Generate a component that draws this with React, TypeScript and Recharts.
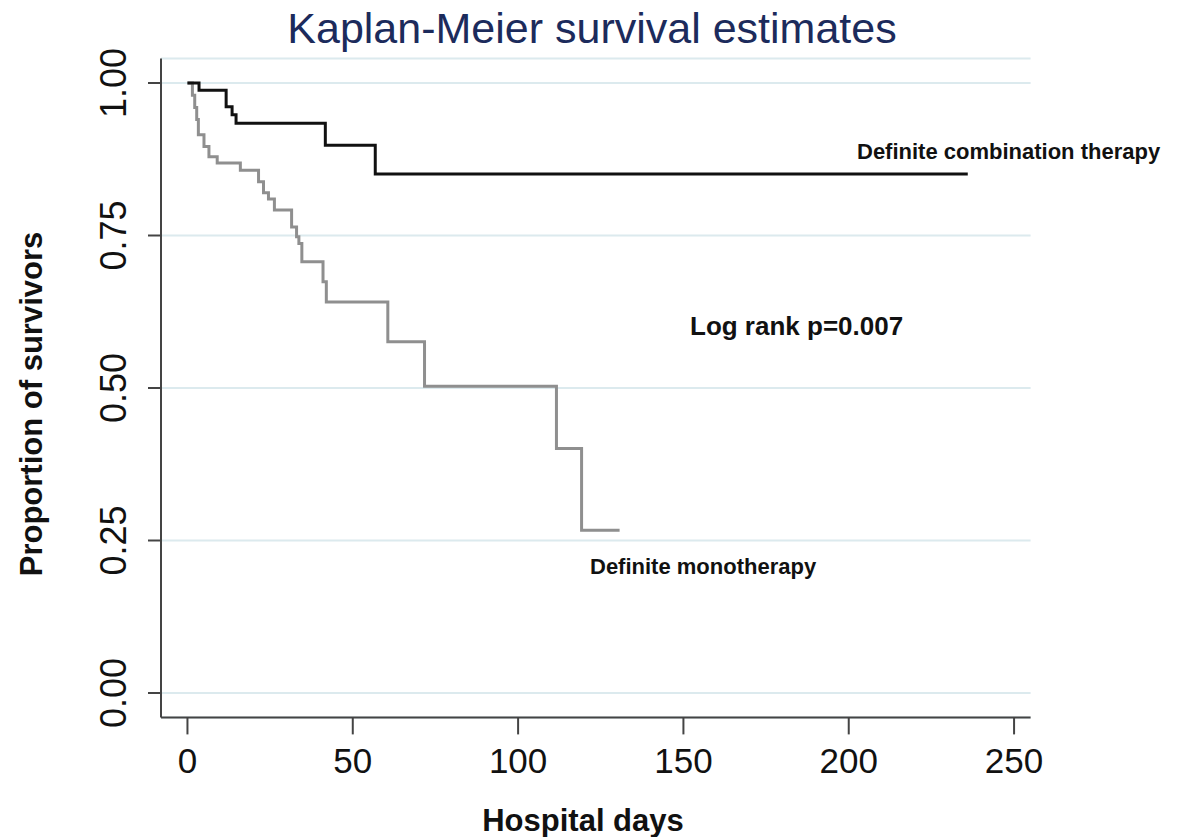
import { LineChart, Line, XAxis, YAxis, CartesianGrid } from "recharts";

// Kaplan-Meier step points (day, survival after the step)
const comboDays = [0, 3.5, 11.7, 13.5, 14.7, 41.7, 56.8, 236];
const comboSurv = [1.0, 0.988, 0.961, 0.948, 0.934, 0.898, 0.851, 0.851];

const monoDays = [
  0, 1.5, 2.2, 2.8, 3.3, 5, 6.5, 9, 16, 21.5, 23, 24.5, 26.3, 31.5, 33, 33.7, 34.6, 41, 42, 60.6, 71.7,
  111.6, 119.2, 130.7,
];
const monoSurv = [
  1.0, 0.98, 0.96, 0.94, 0.915, 0.896, 0.879, 0.869, 0.857, 0.838, 0.82, 0.81, 0.792, 0.764, 0.748, 0.737,
  0.707, 0.674, 0.641, 0.576, 0.503, 0.401, 0.267, 0.267,
];

const xTicks = [0, 50, 100, 150, 200, 250];
const yTicks = [0, 0.25, 0.5, 0.75, 1];

const combo = comboDays.map((t, i) => ({ t, s: comboSurv[i] }));
const mono = monoDays.map((t, i) => ({ t, s: monoSurv[i] }));

const FONT = "'Liberation Sans', Arial, Helvetica, sans-serif";

const XTick = ({ x, y, payload }: any) => (
  <text x={x} y={y + 26} textAnchor="middle" dominantBaseline="central" fontSize={35} fill="#111" fontFamily={FONT}>
    {payload.value}
  </text>
);

const YTick = ({ x, y, payload }: any) => (
  <text
    transform={`translate(${x - 35},${y}) rotate(-90)`}
    textAnchor="middle"
    dominantBaseline="central"
    fontSize={36}
    fill="#111"
    fontFamily={FONT}
  >
    {payload.value.toFixed(2)}
  </text>
);

export default function App() {
  return (
    <div style={{ position: "absolute", left: 0, top: 0, width: 1184, height: 837, background: "#fff", fontFamily: FONT }}>
      <LineChart width={1184} height={837} margin={{ top: 58.6, right: 153.4, bottom: 79.6, left: 101 }}>
        <CartesianGrid horizontal vertical={false} stroke="#dceaee" strokeWidth={2} />
        <XAxis
          type="number"
          dataKey="t"
          domain={[-8, 255]}
          ticks={xTicks}
          allowDataOverflow
          height={40}
          tickSize={17}
          tickMargin={0}
          tick={<XTick />}
          axisLine={{ stroke: "#444", strokeWidth: 2 }}
          tickLine={{ stroke: "#444", strokeWidth: 2 }}
        />
        <YAxis
          type="number"
          dataKey="s"
          domain={[-0.04, 1.04]}
          ticks={yTicks}
          allowDataOverflow
          width={60}
          tickSize={13}
          tickMargin={0}
          tick={<YTick />}
          axisLine={{ stroke: "#444", strokeWidth: 2 }}
          tickLine={{ stroke: "#444", strokeWidth: 2 }}
        />
        <Line
          data={mono}
          dataKey="s"
          type="stepAfter"
          stroke="#8f8f8f"
          strokeWidth={3}
          dot={false}
          isAnimationActive={false}
        />
        <Line
          data={combo}
          dataKey="s"
          type="stepAfter"
          stroke="#111"
          strokeWidth={3}
          dot={false}
          isAnimationActive={false}
        />
      </LineChart>

      <div style={{ position: "absolute", left: 0, width: 1184, top: 3, textAlign: "center", fontSize: 43, color: "#1c2b5c", lineHeight: "50px" }}>
        Kaplan-Meier survival estimates
      </div>
      <div style={{ position: "absolute", left: 383, width: 400, top: 803, textAlign: "center", fontSize: 31, fontWeight: "bold", color: "#111", lineHeight: "36px" }}>
        Hospital days
      </div>
      <div
        style={{
          position: "absolute",
          left: 32,
          top: 404,
          transform: "translate(-50%, -50%) rotate(-90deg)",
          fontSize: 31,
          fontWeight: "bold",
          color: "#111",
          whiteSpace: "nowrap",
          lineHeight: "36px",
        }}
      >
        Proportion of survivors
      </div>
      <div style={{ position: "absolute", left: 857, top: 138, fontSize: 22, fontWeight: "bold", color: "#111", whiteSpace: "nowrap", lineHeight: "28px" }}>
        Definite combination therapy
      </div>
      <div style={{ position: "absolute", left: 690, top: 310, fontSize: 26, fontWeight: "bold", color: "#111", whiteSpace: "nowrap", lineHeight: "32px" }}>
        Log rank p=0.007
      </div>
      <div style={{ position: "absolute", left: 590, top: 553, fontSize: 22, fontWeight: "bold", color: "#111", whiteSpace: "nowrap", lineHeight: "28px" }}>
        Definite monotherapy
      </div>
    </div>
  );
}
